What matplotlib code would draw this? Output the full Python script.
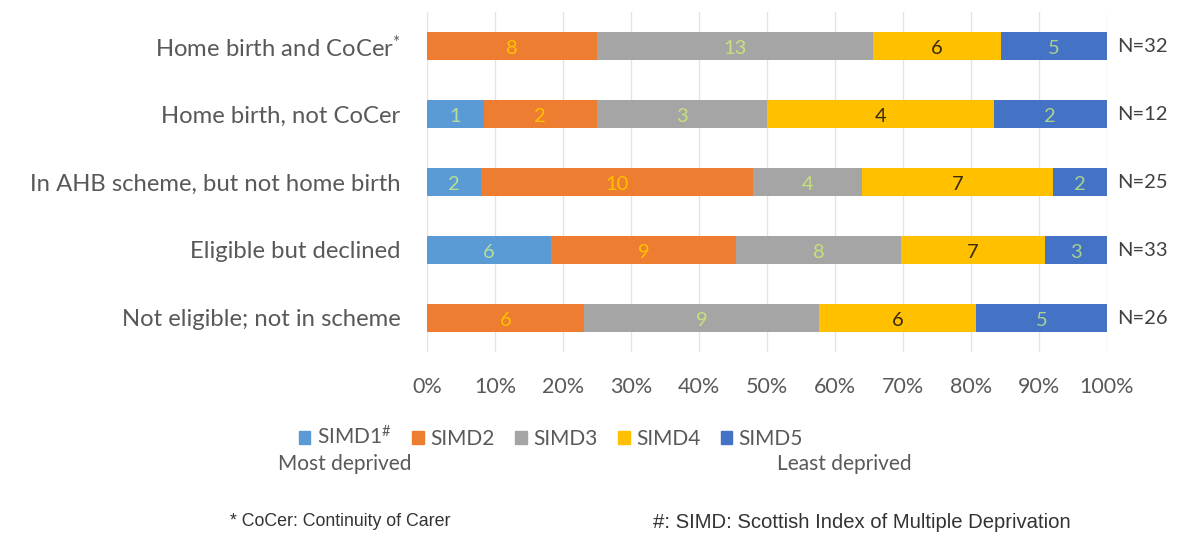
import matplotlib.pyplot as plt
import numpy as np
from matplotlib.patches import Patch

categories = ['Home birth and CoCer$^{*}$', 'Home birth, not CoCer',
              'In AHB scheme, but not home birth', 'Eligible but declined',
              'Not eligible; not in scheme']
series = ['SIMD1$^{\\#}$', 'SIMD2', 'SIMD3', 'SIMD4', 'SIMD5']
simd1 = [0, 1, 2, 6, 0]
simd2 = [8, 2, 10, 9, 6]
simd3 = [13, 3, 4, 8, 9]
simd4 = [6, 4, 7, 7, 6]
simd5 = [5, 2, 2, 3, 5]
totals = [32, 12, 25, 33, 26]
ticks = [0, 10, 20, 30, 40, 50, 60, 70, 80, 90, 100]

colors = ['#5B9BD5', '#ED7D31', '#A5A5A5', '#FFC000', '#4472C4']
lab_colors = ['#B4DE9A', '#FFC000', '#C6E07A', '#3A2A10', '#A9D18E']

plt.rcParams['font.family'] = ['Lato', 'DejaVu Sans']
plt.rcParams['mathtext.fontset'] = 'custom'
plt.rcParams['mathtext.rm'] = 'Lato'
plt.rcParams['mathtext.it'] = 'Lato'
fig = plt.figure(figsize=(11.88, 5.39), dpi=100)
ax = fig.add_axes([427/1188, 1 - 352/539, 680/1188, 340/539])

data = np.array([simd1, simd2, simd3, simd4, simd5], dtype=float)
pct = data / np.array(totals) * 100
y = np.arange(len(categories))
left = np.zeros(len(categories))
for i in range(len(series)):
    ax.barh(y, pct[i], left=left, height=0.4, color=colors[i], zorder=3)
    for j in range(len(categories)):
        if data[i, j] > 0:
            ax.text(left[j] + pct[i, j] / 2, y[j] + 0.03, str(int(data[i, j])),
                    ha='center', va='center', fontsize=14.5, color=lab_colors[i],
                    zorder=4)
    left += pct[i]

for j in range(len(categories)):
    ax.text(101.5, y[j], 'N=%d' % totals[j], ha='left', va='center',
            fontsize=14.5, color='#404040')

ax.set_xlim(0, 100)
ax.set_ylim(len(categories) - 0.5, -0.5)
ax.set_xticks(ticks)
ax.set_xticklabels(['%d%%' % t for t in ticks], fontsize=15.5, color='#595959')
ax.set_yticks(y)
ax.set_yticklabels(categories, fontsize=17.2, color='#595959')
ax.tick_params(length=0, pad=19, axis='y')
ax.tick_params(length=0, pad=18, axis='x')
ax.xaxis.grid(True, color='#E4E4E4', lw=1, zorder=0)
for s in ax.spines.values():
    s.set_visible(False)

handles = [Patch(color=c) for c in colors]
leg = fig.legend(handles, series,
                 loc='center', bbox_to_anchor=(551/1188, 1 - 437/539),
                 ncol=5, frameon=False, fontsize=15, handlelength=0.55,
                 handleheight=0.55, handletextpad=0.3, columnspacing=1.0)
for t in leg.get_texts():
    t.set_color('#595959')

fig.text(278/1188, 1 - 464/539, 'Most deprived', fontsize=15,
         color='#595959', ha='left', va='center')
fig.text(777/1188, 1 - 464/539, 'Least deprived', fontsize=15,
         color='#595959', ha='left', va='center')

fig.text(230/1188, 1 - 522/539, '* CoCer: Continuity of Carer',
         family='Liberation Sans', fontsize=12.8, color='#333333',
         ha='left', va='center')
fig.text(653/1188, 1 - 522/539, '#: SIMD: Scottish Index of Multiple Deprivation',
         family='Liberation Sans', fontsize=14.6, color='#333333',
         ha='left', va='center')

fig.savefig('out.png', dpi=100)
